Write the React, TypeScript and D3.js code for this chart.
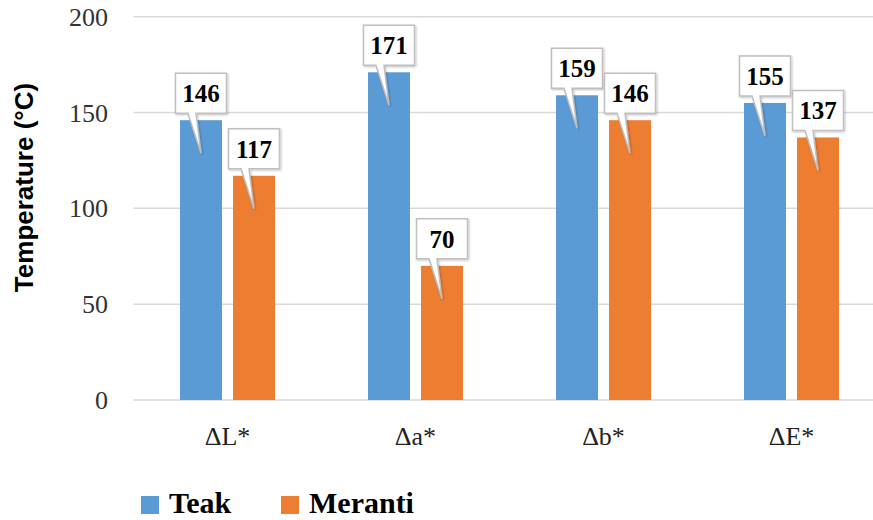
import React from "react";
import * as d3 from "d3";

// Colour change temperatures per colour coordinate
const categories = ["ΔL*", "Δa*", "Δb*", "ΔE*"];
const seriesNames = ["Teak", "Meranti"];
const teakValues = [146, 171, 159, 155];
const merantiValues = [117, 70, 146, 137];
const yTicks = [0, 50, 100, 150, 200];
const yTitle = "Temperature (°C)";

const W = 873;
const H = 520;
const colors: Record<string, string> = { Teak: "#5B9BD5", Meranti: "#ED7D31" };

export default function App() {
  const x = d3.scaleBand<string>().domain(categories).range([133.5, 885.5]).padding(0);
  const xs = d3
    .scaleBand<string>()
    .domain(seriesNames)
    .range([46.5, 141.5])
    .paddingInner(0.208)
    .paddingOuter(0);
  const y = d3.scaleLinear().domain([0, 200]).range([400, 16.7]);

  const valuesBySeries: Record<string, number[]> = { Teak: teakValues, Meranti: merantiValues };

  const bars = categories.flatMap((c, i) =>
    seriesNames.map((s) => ({ cat: c, series: s, value: valuesBySeries[s][i] }))
  );

  // Wedge-shaped callout: box above the bar, pointer reaching into the bar
  const calloutPath = (cx: number, top: number) => {
    const bw = 51;
    const bh = 40;
    const bottom = top - 7;
    const boxTop = bottom - bh;
    const left = cx - bw / 2;
    const right = cx + bw / 2;
    const tipY = top + 33;
    const b1 = cx - 13;
    const b2 = cx - 5;
    return {
      d: `M${left},${boxTop} L${right},${boxTop} L${right},${bottom} L${b2},${bottom} L${cx},${tipY} L${b1},${bottom} L${left},${bottom} Z`,
      textY: boxTop + bh / 2,
    };
  };

  return (
    <div style={{ position: "fixed", left: 0, top: 0, width: W, height: H, background: "#fff" }}>
      <svg width={W} height={H} style={{ display: "block" }}>
        <defs>
          <filter id="calloutShadow" x="-20%" y="-20%" width="140%" height="140%">
            <feDropShadow dx="1" dy="1" stdDeviation="1" floodColor="#000" floodOpacity="0.25" />
          </filter>
          <clipPath id="plotClip">
            <rect x={0} y={0} width={W} height={H} />
          </clipPath>
        </defs>

        {/* gridlines */}
        <g clipPath="url(#plotClip)">
          {yTicks.map((t) => (
            <line
              key={t}
              x1={x.range()[0]}
              x2={x.range()[1]}
              y1={y(t)}
              y2={y(t)}
              stroke="#D9D9D9"
              strokeWidth={1.5}
            />
          ))}
        </g>

        {/* y tick labels */}
        {yTicks.map((t) => (
          <text
            key={t}
            x={108}
            y={y(t)}
            dy="0.35em"
            textAnchor="end"
            fontFamily="'Liberation Serif', serif"
            fontSize={26}
            fill="#333"
          >
            {t}
          </text>
        ))}

        {/* y axis title */}
        <text
          transform={`translate(33, 187.5) rotate(-90)`}
          textAnchor="middle"
          fontFamily="'Liberation Sans', Arial, sans-serif"
          fontWeight="bold"
          fontSize={26}
          fill="#000"
        >
          {yTitle}
        </text>

        {/* bars */}
        {bars.map((b) => (
          <rect
            key={b.cat + b.series}
            x={(x(b.cat) as number) + (xs(b.series) as number)}
            y={y(b.value)}
            width={xs.bandwidth()}
            height={y(0) - y(b.value)}
            fill={colors[b.series]}
          />
        ))}

        {/* category labels */}
        {categories.map((c) => (
          <text
            key={c}
            x={(x(c) as number) + x.bandwidth() / 2}
            y={445}
            textAnchor="middle"
            fontFamily="'Liberation Serif', serif"
            fontSize={26}
            fill="#222"
          >
            {c}
          </text>
        ))}

        {/* value callouts */}
        {bars.map((b) => {
          const cx = (x(b.cat) as number) + (xs(b.series) as number) + xs.bandwidth() / 2;
          const c = calloutPath(cx, y(b.value));
          return (
            <g key={"c" + b.cat + b.series}>
              <path d={c.d} fill="#fff" stroke="#BFBFBF" strokeWidth={1.5} filter="url(#calloutShadow)" />
              <text
                x={cx}
                y={c.textY}
                dy="0.35em"
                textAnchor="middle"
                fontFamily="'Liberation Serif', serif"
                fontWeight="bold"
                fontSize={25}
                fill="#000"
              >
                {b.value}
              </text>
            </g>
          );
        })}

        {/* legend */}
        {seriesNames.map((s, i) => {
          const lx = [141, 281][i];
          return (
            <g key={s}>
              <rect x={lx} y={496} width={18} height={18} fill={colors[s]} />
              <text
                x={lx + 28}
                y={513}
                fontFamily="'Liberation Serif', serif"
                fontWeight="bold"
                fontSize={30}
                fill="#000"
              >
                {s}
              </text>
            </g>
          );
        })}
      </svg>
    </div>
  );
}
